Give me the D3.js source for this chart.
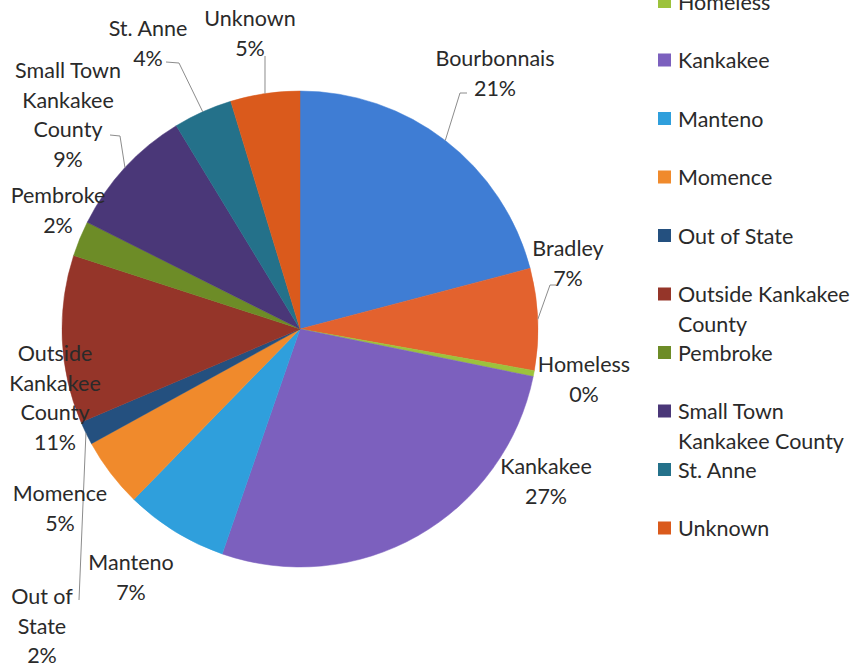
<!DOCTYPE html>
<html lang="en">
<head>
<meta charset="utf-8">
<title>Residence pie</title>
<script src="https://cdn.jsdelivr.net/npm/d3@7"></script>
<style>
  body { margin: 0; background: #fff; }
  svg { font-family: Lato, "Open Sans", sans-serif; }
  .lbl { font-size: 21.5px; fill: #2a2a2a; }
  .leg { font-size: 21.5px; fill: #2a2a2a; }
</style>
</head>
<body>
<svg width="853" height="669"></svg>
<script>
// data (percent of clients)
var places = ["Bourbonnais", "Bradley", "Homeless", "Kankakee", "Manteno", "Momence",
              "Out of State", "Outside Kankakee County", "Pembroke",
              "Small Town Kankakee County", "St. Anne", "Unknown"];
var shares = [20.9, 6.9, 0.4, 27.1, 7.0, 4.7, 1.6, 11.4, 2.4, 8.9, 4.0, 4.7];
var colors = ["#3f7dd4", "#e3622e", "#9cc23c", "#7c60be", "#2f9fdc", "#f08a2c",
              "#24507f", "#953529", "#6d8c27", "#4a3778", "#24718a", "#da5a1c"];

// label lines as they wrap in the chart
var labelLines = [["Bourbonnais"], ["Bradley"], ["Homeless"], ["Kankakee"], ["Manteno"],
                  ["Momence"], ["Out of", "State"], ["Outside", "Kankakee", "County"],
                  ["Pembroke"], ["Small Town", "Kankakee", "County"], ["St. Anne"], ["Unknown"]];
var legendLines = [["Bourbonnais"], ["Bradley"], ["Homeless"], ["Kankakee"], ["Manteno"],
                   ["Momence"], ["Out of State"], ["Outside Kankakee", "County"], ["Pembroke"],
                   ["Small Town", "Kankakee County"], ["St. Anne"], ["Unknown"]];

// label layout: centre x, first line y, optional leader elbow [x, y] on the label side
var labelPos = [
  {x: 495, y: 58,  elbow: [[467, 93], [460, 93]]},
  {x: 568, y: 248, elbow: [[556, 285], [550, 285]]},
  {x: 584, y: 364},
  {x: 546, y: 466},
  {x: 131, y: 562},
  {x: 60,  y: 493},
  {x: 42,  y: 596, elbow: [[79, 600]]},
  {x: 55,  y: 353},
  {x: 58,  y: 195},
  {x: 68,  y: 70,  elbow: [[110, 135], [120, 136]]},
  {x: 148, y: 28,  elbow: [[166, 62], [179, 63]]},
  {x: 250, y: 18,  elbow: [[265, 56]]}
];

var svg = d3.select("svg"),
    cx = 300, cy = 329, radius = 238, lineH = 29.5;

var rows = places.map(function(p, i) { return {name: p, value: shares[i], i: i}; });
var total = d3.sum(shares);
var pct = d3.format(".0%");

var pie = d3.pie().sort(null).value(function(d) { return d.value; });
var arc = d3.arc().innerRadius(0).outerRadius(radius);
var arcs = pie(rows);

var g = svg.append("g").attr("transform", "translate(" + cx + "," + cy + ")");

g.selectAll("path")
  .data(arcs)
  .enter().append("path")
    .attr("d", arc)
    .attr("fill", function(d) { return colors[d.data.i]; })
    .attr("stroke", function(d) { return colors[d.data.i]; })
    .attr("stroke-width", 0.5);

// leader lines: from label elbow to the rim at the slice's mid-angle
arcs.forEach(function(d) {
  var lp = labelPos[d.data.i];
  if (!lp.elbow) return;
  var mid = (d.startAngle + d.endAngle) / 2;
  var rim = [cx + radius * Math.sin(mid), cy - radius * Math.cos(mid)];
  var pts = lp.elbow.concat([rim]);
  svg.append("path")
    .attr("d", d3.line()(pts))
    .attr("fill", "none")
    .attr("stroke", "#8c8c8c")
    .attr("stroke-width", 1);
});

// data labels
arcs.forEach(function(d) {
  var lp = labelPos[d.data.i];
  var lines = labelLines[d.data.i].concat([pct(d.data.value / total)]);
  var t = svg.append("text")
    .attr("class", "lbl")
    .attr("text-anchor", "middle")
    .attr("dominant-baseline", "central");
  lines.forEach(function(s, k) {
    t.append("tspan").attr("x", lp.x).attr("y", lp.y + k * lineH).text(s);
  });
});

// legend (starts above the visible area, as in the original)
var legY = d3.scaleLinear().domain([0, 1]).range([-115.5, -57]);
var leg = svg.selectAll("g.legrow")
  .data(rows)
  .enter().append("g")
    .attr("class", "legrow")
    .attr("transform", function(d) { return "translate(658," + legY(d.i) + ")"; });

leg.append("rect")
  .attr("x", 0).attr("y", -6.5)
  .attr("width", 13).attr("height", 13)
  .attr("fill", function(d) { return colors[d.i]; });

leg.append("text")
  .attr("class", "leg")
  .attr("dominant-baseline", "central")
  .each(function(d) {
    var t = d3.select(this);
    legendLines[d.i].forEach(function(s, k) {
      t.append("tspan").attr("x", 20).attr("y", k * lineH).text(s);
    });
  });
</script>
</body>
</html>
